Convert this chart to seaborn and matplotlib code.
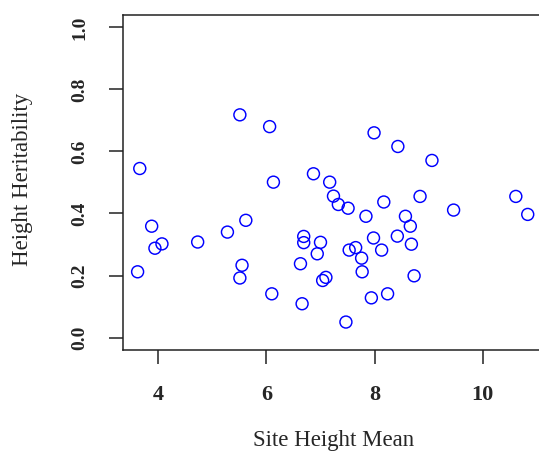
import matplotlib
matplotlib.use("Agg")
import matplotlib.pyplot as plt
import pandas as pd
import seaborn as sns

# values
site_height_mean = [5.51, 6.06, 3.66, 6.13, 6.87, 5.62, 3.88, 5.28, 4.07, 3.94,
                    4.73, 6.69, 6.69, 7.00, 6.94, 6.63, 5.55, 3.62, 5.51, 6.10,
                    6.66, 7.99, 8.43, 9.06, 7.17, 7.24, 7.33, 7.51, 8.17, 8.84,
                    7.84, 10.61, 10.83, 9.46, 8.57, 8.66, 7.98, 8.42, 8.68, 7.53,
                    7.65, 8.13, 7.76, 7.77, 8.73, 7.10, 7.04, 8.24, 7.94, 7.47]
height_heritability = [0.718, 0.680, 0.545, 0.501, 0.528, 0.378, 0.359, 0.340, 0.302, 0.288,
                       0.308, 0.326, 0.306, 0.307, 0.270, 0.238, 0.233, 0.212, 0.192, 0.141,
                       0.109, 0.660, 0.616, 0.571, 0.501, 0.456, 0.429, 0.417, 0.437, 0.455,
                       0.391, 0.455, 0.397, 0.411, 0.391, 0.359, 0.321, 0.327, 0.301, 0.282,
                       0.290, 0.282, 0.256, 0.212, 0.199, 0.194, 0.184, 0.141, 0.128, 0.050]
x_ticks = [4, 6, 8, 10]
y_ticks = [0.0, 0.2, 0.4, 0.6, 0.8, 1.0]

df = pd.DataFrame({"Site Height Mean": site_height_mean,
                   "Height Heritability": height_heritability})

sns.set_style("white")
plt.rcParams["font.family"] = ["Liberation Serif", "DejaVu Serif"]

fig = plt.figure(figsize=(5.39, 4.66), dpi=100)
ax = fig.add_axes([0.2282, 0.249, 0.780, 0.7189])

sns.scatterplot(data=df, x="Site Height Mean", y="Height Heritability", ax=ax,
                marker="o", s=74, facecolor="none", edgecolor="#0000ff",
                linewidth=1.05, clip_on=False)

ax.set_xlim(3.35, 11.12)
ax.set_ylim(-0.04, 1.04)
ax.set_xticks(x_ticks)
ax.set_yticks(y_ticks)
ax.set_xticklabels([str(t) for t in x_ticks], fontsize=16, fontweight="bold")
ax.set_yticklabels([f"{t:.1f}" for t in y_ticks], fontsize=14, fontweight="bold",
                   rotation=90, va="center")

ax.tick_params(axis="both", direction="out", length=10, width=1.1, color="#222222",
               bottom=True, left=True)
ax.tick_params(axis="x", pad=15)
ax.tick_params(axis="y", pad=15)

for sp in ax.spines.values():
    sp.set_linewidth(1.1)
    sp.set_color("#222222")

ax.set_xlabel("Site Height Mean", fontsize=16.5)
ax.set_ylabel("Height Heritability", fontsize=16.5)
ax.xaxis.set_label_coords(0.5, -0.27)
ax.yaxis.set_label_coords(-0.24, 0.51)
ax.xaxis.label.set_va("center")
ax.yaxis.label.set_va("center")

fig.savefig("out.png", dpi=100)
